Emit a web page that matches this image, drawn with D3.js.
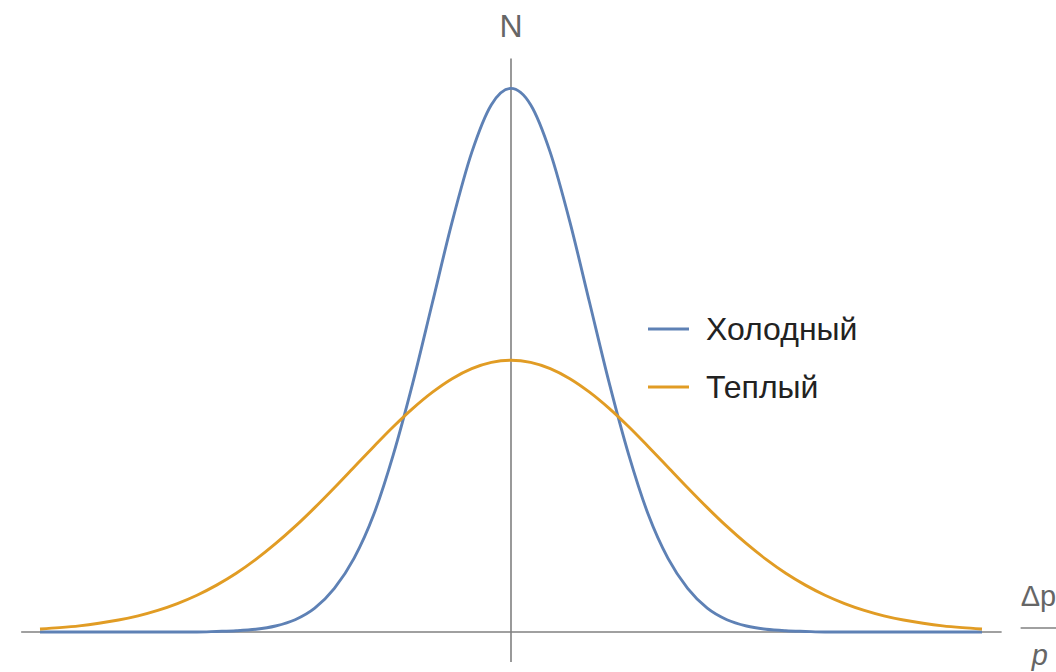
<!DOCTYPE html>
<html>
<head>
<meta charset="utf-8">
<script src="https://cdn.jsdelivr.net/npm/d3@7"></script>
<style>
  html, body { margin: 0; padding: 0; background: #fff; }
  svg { display: block; }
</style>
</head>
<body>
<svg id="chart" width="1056" height="672"></svg>
<script>
// Momentum spread Δp/p (arbitrary units) and particle count N for two beams
const deltaP = [
  -6, -5.75, -5.5, -5.25, -5, -4.75, -4.5, -4.25, -4, -3.75, -3.5, -3.25, -3, -2.75, -2.5, -2.25,
  -2, -1.75, -1.5, -1.25, -1, -0.75, -0.5, -0.25, 0, 0.25, 0.5, 0.75, 1, 1.25, 1.5, 1.75,
  2, 2.25, 2.5, 2.75, 3, 3.25, 3.5, 3.75, 4, 4.25, 4.5, 4.75, 5, 5.25, 5.5, 5.75, 6
];
const coldN = [
  0, 0, 0, 0, 0, 0, 0, 0, 0, 0.0004, 0.0009, 0.002, 0.0044, 0.009, 0.0175, 0.032,
  0.054, 0.086, 0.130, 0.183, 0.242, 0.301, 0.352, 0.387, 0.399, 0.387, 0.352, 0.301, 0.242, 0.183, 0.130, 0.086,
  0.054, 0.032, 0.0175, 0.009, 0.0044, 0.002, 0.0009, 0.0004, 0, 0, 0, 0, 0, 0, 0, 0, 0
];
const warmN = [
  0.0022, 0.0032, 0.0045, 0.0064, 0.0088, 0.0119, 0.0159, 0.0209, 0.0270, 0.0344, 0.0431, 0.0533, 0.0648, 0.0775, 0.0913, 0.1059,
  0.1210, 0.1360, 0.1506, 0.1641, 0.1760, 0.1859, 0.1933, 0.1979, 0.1995, 0.1979, 0.1933, 0.1859, 0.1760, 0.1641, 0.1506, 0.1360,
  0.1210, 0.1059, 0.0913, 0.0775, 0.0648, 0.0533, 0.0431, 0.0344, 0.0270, 0.0209, 0.0159, 0.0119, 0.0088, 0.0064, 0.0045, 0.0032, 0.0022
];
const seriesNames = ["Холодный", "Теплый"];
const seriesColors = ["#5e81b5", "#e19c24"];
const axisLabelY = "N";

const svg = d3.select("#chart");

// Scales
const x = d3.scaleLinear().domain([-6, 6]).range([40, 982]);
const y = d3.scaleLinear().domain([0, 0.4]).range([632, 87]);

// Axis extents (data units)
const xAxisSpan = [-6.24, 6.25];
const yAxisSpan = [-0.022, 0.421];
const axisColor = "#808080";

// Axes through the origin
svg.append("line")
  .attr("x1", x(xAxisSpan[0])).attr("x2", x(xAxisSpan[1]))
  .attr("y1", y(0)).attr("y2", y(0))
  .attr("stroke", axisColor).attr("stroke-width", 1.6);

svg.append("line")
  .attr("x1", x(0)).attr("x2", x(0))
  .attr("y1", y(yAxisSpan[0])).attr("y2", y(yAxisSpan[1]))
  .attr("stroke", axisColor).attr("stroke-width", 1.6);

// Curves
const line = d3.line()
  .x(d => x(d[0]))
  .y(d => y(d[1]))
  .curve(d3.curveMonotoneX);

const series = [coldN, warmN];
series.forEach((vals, i) => {
  svg.append("path")
    .datum(deltaP.map((p, k) => [p, vals[k]]))
    .attr("fill", "none")
    .attr("stroke", seriesColors[i])
    .attr("stroke-width", 2.9)
    .attr("stroke-linejoin", "round")
    .attr("d", line);
});

// Axis labels
svg.append("text")
  .attr("x", x(0)).attr("y", 37)
  .attr("text-anchor", "middle")
  .attr("font-family", "Liberation Sans, Arial, sans-serif")
  .attr("font-size", 32)
  .attr("fill", "#666")
  .text(axisLabelY);

const frac = svg.append("g").attr("transform", `translate(${x(xAxisSpan[1]) + 19},628)`);
frac.append("text")
  .attr("x", 0).attr("y", -22)
  .attr("font-family", "Liberation Sans, Arial, sans-serif")
  .attr("font-size", 29)
  .attr("fill", "#666")
  .text("Δp");
frac.append("line")
  .attr("x1", 0).attr("x2", 60)
  .attr("y1", 0).attr("y2", 0)
  .attr("stroke", "#808080").attr("stroke-width", 1.6);
frac.append("text")
  .attr("x", 11).attr("y", 37)
  .attr("font-family", "Liberation Sans, Arial, sans-serif")
  .attr("font-style", "italic")
  .attr("font-size", 29)
  .attr("fill", "#666")
  .text("p");

// Legend
const legend = svg.append("g").attr("transform", "translate(648,329)");
seriesNames.forEach((name, i) => {
  const row = legend.append("g").attr("transform", `translate(0,${i * 58})`);
  row.append("line")
    .attr("x1", 0).attr("x2", 41)
    .attr("y1", 0).attr("y2", 0)
    .attr("stroke", seriesColors[i])
    .attr("stroke-width", 2.9);
  row.append("text")
    .attr("x", 58).attr("y", 11)
    .attr("font-family", "Liberation Sans, Arial, sans-serif")
    .attr("font-size", 32)
    .attr("fill", "#222")
    .text(name);
});
</script>
</body>
</html>
